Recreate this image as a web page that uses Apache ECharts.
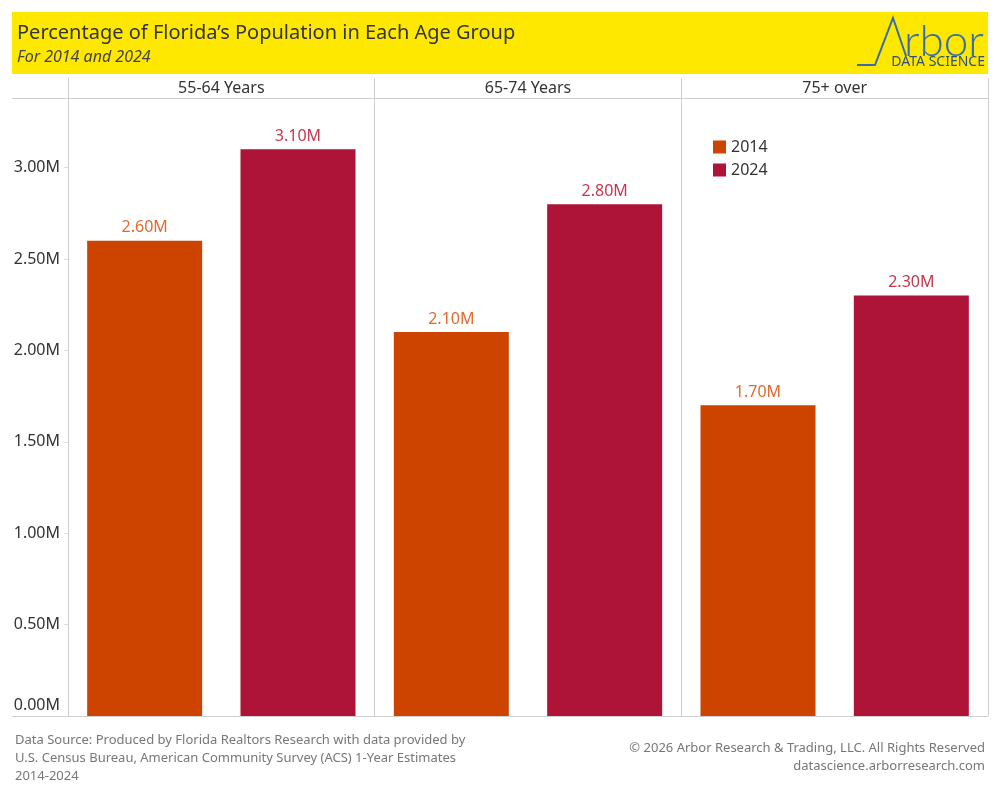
<!DOCTYPE html>
<html><head><meta charset="utf-8">
<script src="https://cdn.jsdelivr.net/npm/echarts@6/dist/echarts.min.js"></script>
<style>html,body{margin:0;padding:0;background:#fff}#c{width:1000px;height:800px}</style>
</head><body><div id="c"></div>
<script>
const ageGroups = ['55-64 Years', '65-74 Years', '75+ over'];
const years = ['2014', '2024'];
const values2014 = [2600000, 2100000, 1700000];
const values2024 = [3100000, 2800000, 2300000];

const cats = [];
const s2014 = [], s2024 = [];
ageGroups.forEach((g, i) => {
  cats.push(g + '|2014'); cats.push(g + '|2024');
  s2014.push(values2014[i], '-');
  s2024.push('-', values2024[i]);
});

const FONT = 'Noto Sans';
const fmtM = v => (v / 1e6).toFixed(2) + 'M';
const chart = echarts.init(document.getElementById('c'), null, {renderer: 'canvas'});
chart.setOption({
  animation: false,
  backgroundColor: '#fff',
  textStyle: {fontFamily: FONT},
  grid: {left: 68, right: 12, top: 78, bottom: 84},
  legend: {
    orient: 'vertical', left: 708, top: 134, itemWidth: 13, itemHeight: 13, itemGap: 7,
    icon: 'rect', data: years,
    textStyle: {fontSize: 16, color: '#333', fontFamily: FONT}
  },
  xAxis: [
    {type: 'category', data: cats, position: 'bottom',
     axisLine: {show: false}, axisTick: {show: false}, axisLabel: {show: false}},
    {type: 'category', data: ageGroups, position: 'top', boundaryGap: true,
     axisLine: {show: false}, axisTick: {show: false},
     axisLabel: {inside: true, margin: 2, fontSize: 16, color: '#333', fontFamily: FONT, verticalAlign: 'top'},
     splitLine: {show: true, lineStyle: {color: '#cfcfcf', width: 1}}}
  ],
  yAxis: {
    type: 'value', min: 0, max: 3490000, interval: 500000,
    axisLine: {show: true, lineStyle: {color: '#cfcfcf'}},
    axisTick: {show: true, length: 4, lineStyle: {color: '#dddddd'}},
    splitLine: {show: false},
    axisLabel: {
      formatter: v => v === 0 ? '{z|' + fmtM(v) + '}' : fmtM(v),
      rich: {z: {fontSize: 16, color: '#333', fontFamily: FONT, padding: [0, 0, 22, 0]}},
      fontSize: 16, color: '#333', margin: 8, showMaxLabel: false, fontFamily: FONT}
  },
  series: [
    {name: '2014', type: 'bar', data: s2014, barWidth: 115, barGap: '-100%',
     itemStyle: {color: '#CC4400'},
     label: {show: true, position: 'top', distance: 5, formatter: p => fmtM(p.value), fontSize: 16, color: '#E4692E', fontFamily: FONT}},
    {name: '2024', type: 'bar', data: s2024, barWidth: 115, barGap: '-100%',
     itemStyle: {color: '#AE1338'},
     label: {show: true, position: 'top', distance: 5, formatter: p => fmtM(p.value), fontSize: 16, color: '#C8374F', fontFamily: FONT}}
  ],
  graphic: [
    {type: 'rect', shape: {x: 12, y: 12, width: 976, height: 62}, style: {fill: '#FFE800'}, z: -1},
    {type: 'text', x: 17, y: 33, style: {text: 'Percentage of Florida\u2019s Population in Each Age Group', font: '20px "Noto Sans"', fill: '#333', verticalAlign: 'middle'}},
    {type: 'text', x: 17, y: 57, style: {text: 'For 2014 and 2024', font: 'italic 16px "Noto Sans"', fill: '#444', verticalAlign: 'middle'}},
    {type: 'polyline', shape: {points: [[857, 65], [875, 65], [893, 18], [906, 56]]}, style: {stroke: '#3A6DA8', lineWidth: 2, fill: null}},
    {type: 'text', x: 904, y: 42, style: {text: 'rbor', font: '300 44px Lato', fill: '#3A6DA8', verticalAlign: 'middle'}},
    {type: 'text', x: 985, y: 62, style: {text: 'DATA SCIENCE', font: '14px "Noto Sans"', fill: '#2E4E80', align: 'right', verticalAlign: 'middle'}},
    {type: 'line', shape: {x1: 12, y1: 98.5, x2: 988, y2: 98.5}, style: {stroke: '#cfcfcf', lineWidth: 1}},
    {type: 'line', shape: {x1: 12, y1: 716.5, x2: 988, y2: 716.5}, style: {stroke: '#cfcfcf', lineWidth: 1}},
    {type: 'text', x: 15, y: 740, style: {text: 'Data Source: Produced by Florida Realtors Research with data provided by', font: '13px "Noto Sans"', fill: '#777', verticalAlign: 'middle'}},
    {type: 'text', x: 15, y: 758, style: {text: 'U.S. Census Bureau, American Community Survey (ACS) 1-Year Estimates', font: '13px "Noto Sans"', fill: '#777', verticalAlign: 'middle'}},
    {type: 'text', x: 15, y: 776, style: {text: '2014-2024', font: '13px "Noto Sans"', fill: '#777', verticalAlign: 'middle'}},
    {type: 'text', x: 985, y: 748, style: {text: '\u00A9 2026 Arbor Research & Trading, LLC. All Rights Reserved', font: '13px "Noto Sans"', fill: '#777', align: 'right', verticalAlign: 'middle'}},
    {type: 'text', x: 985, y: 766, style: {text: 'datascience.arborresearch.com', font: '13px "Noto Sans"', fill: '#777', align: 'right', verticalAlign: 'middle'}}
  ]
});
</script></body></html>
